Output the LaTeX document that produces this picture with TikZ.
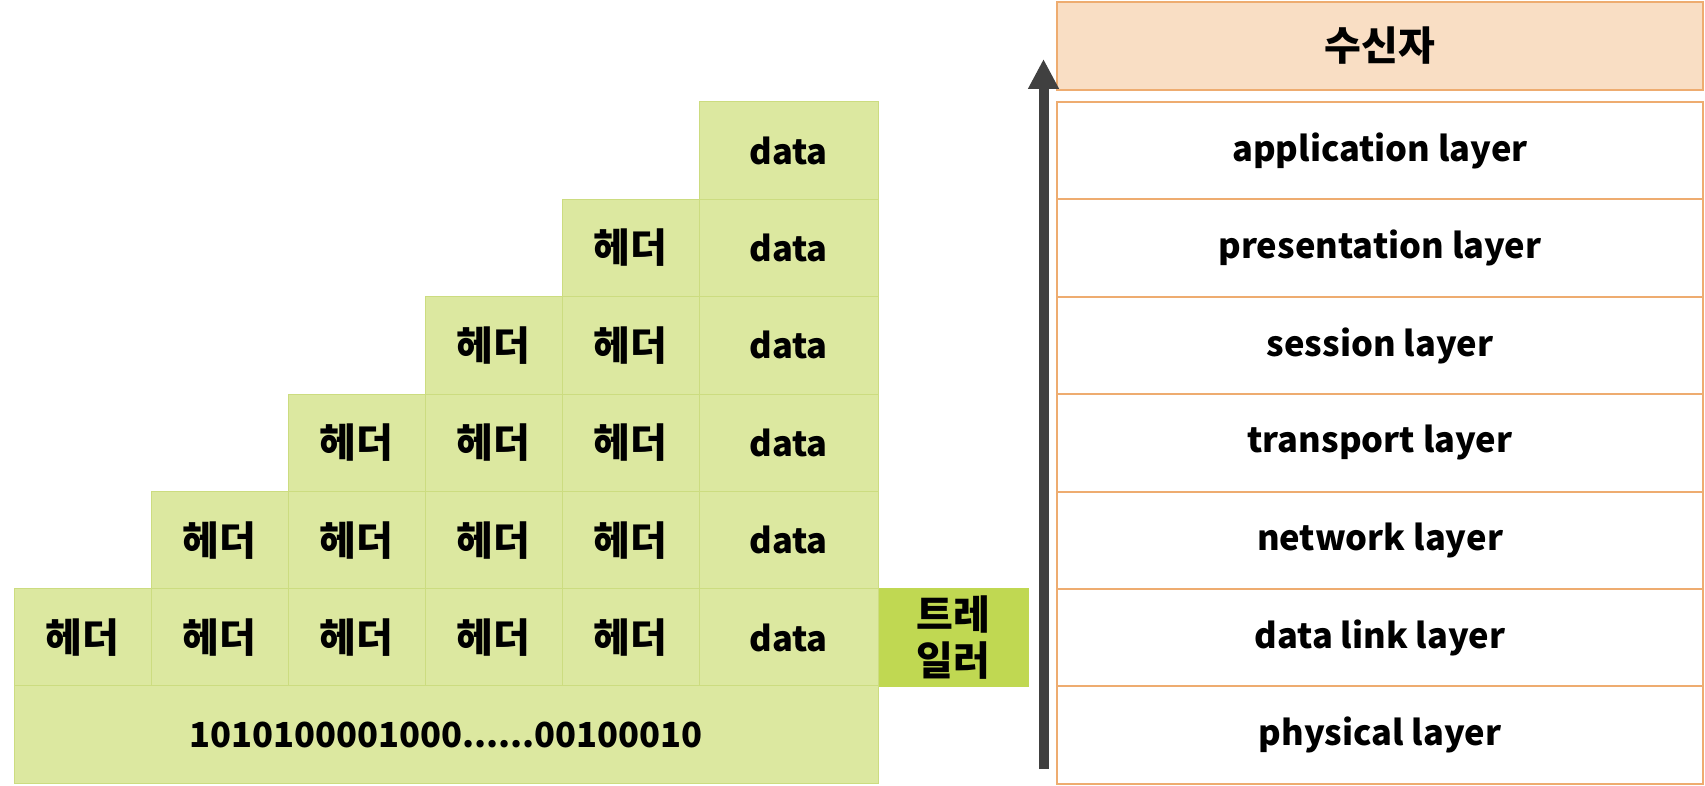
\documentclass[tikz,border=0pt]{standalone}
\usepackage{fontspec}
\setmainfont{Noto Sans CJK KR}
\usepackage{xcolor}
\usepackage{tikz}
\usetikzlibrary{positioning,calc,arrows.meta}
\definecolor{CellGreen}{RGB}{220,232,160}
\definecolor{CellLine}{RGB}{204,220,128}
\definecolor{TrailGreen}{RGB}{192,216,82}
\definecolor{LayerLine}{RGB}{238,172,112}
\definecolor{RecvFill}{RGB}{249,222,196}
\definecolor{ArrowGray}{RGB}{64,64,64}
\newcommand{\latinsize}{\fontsize{34.5}{40}\selectfont}
\newcommand{\hangulsize}{\fontsize{40}{46}\selectfont}
\tikzset{
    cellbox/.style={rectangle, draw=CellLine, fill=CellGreen, line width=1pt,
        minimum width=137pt, minimum height=97.4pt, inner sep=0pt,
        font=\bfseries\latinsize},
    headbox/.style={cellbox, font=\bfseries\hangulsize},
    databox/.style={cellbox, minimum width=179pt},
    layerbox/.style={rectangle, draw=LayerLine, fill=white, line width=2pt,
        minimum width=646pt, minimum height=97.4pt, inner sep=0pt,
        font=\bfseries\latinsize}
}

\begin{document}
\begin{tikzpicture}[x=1pt, y=1pt]
    \useasboundingbox (0,0) rectangle (1705,785);

    % --- CELLS: headers and data ---
    \foreach \r in {1,...,6} {
        \pgfmathsetmacro{\yc}{634.35-97.4*(\r-1)}
        \node[databox] (d-\r) at (788.5,\yc) {data};
        \foreach \c in {1,...,5} {
            \pgfmathtruncatemacro{\show}{\c>=7-\r}
            \ifnum\show=1
                \node[headbox] (h-\r-\c) at ({82.5+137*(\c-1)},\yc) {헤더};
            \fi
        }
    }

    % --- BIT ROW and TRAILER ---
    \node[cellbox, minimum width=864pt] (bits) at (446,50.5) {1010100001000......00100010};
    \node[headbox, fill=TrailGreen, draw=TrailGreen, minimum width=149pt, align=center]
        (trailer) [right=0pt of d-6] {트레\\일러};

    % --- RECEIVER STACK ---
    \node[layerbox, fill=RecvFill, minimum height=88pt, font=\bfseries\hangulsize] (recv) at (1380,739) {수신자};
    \foreach \name [count=\i] in {application,presentation,session,transport,network,data link,physical} {
        \node[layerbox] (L\i) at (1380,{634.35-97.4*(\i-1)}) {\name{} layer};
    }

    % --- UPWARD ARROW ---
    \coordinate (up-start) at (1043.5,16);
    \coordinate (up-end) at (1043.5,726);
    \draw[ArrowGray, line width=10pt, -{Triangle[width=29pt,length=30pt]}] (up-start) -- (up-end);

\end{tikzpicture}
\end{document}
